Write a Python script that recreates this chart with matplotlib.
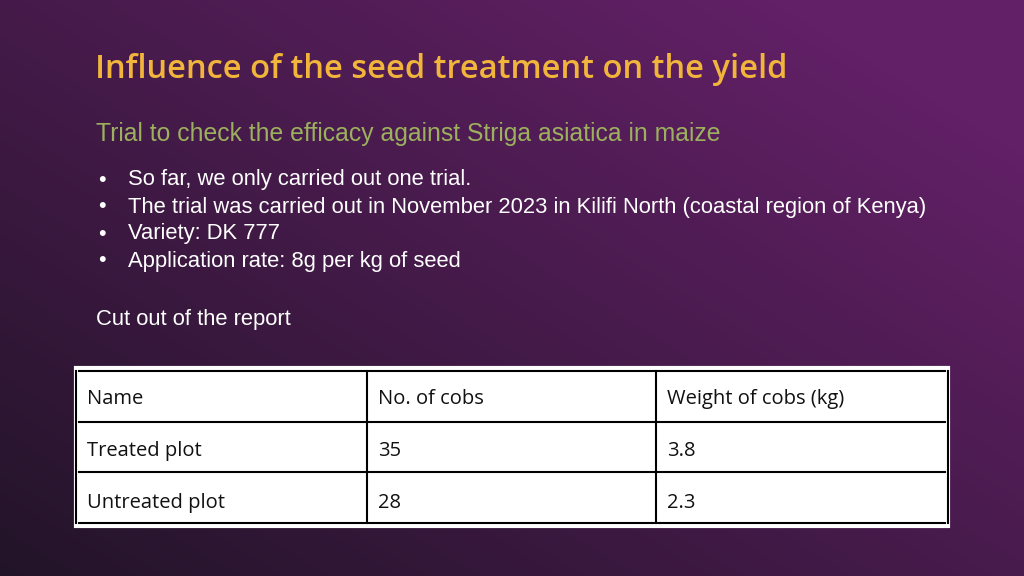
import numpy as np
import matplotlib
matplotlib.use("Agg")
import matplotlib.pyplot as plt
from matplotlib.patches import Rectangle

title = "Influence of the seed treatment on the yield"
subtitle = "Trial to check the efficacy against Striga asiatica in maize"
bullets = ["So far, we only carried out one trial.",
           "The trial was carried out in November 2023 in Kilifi North (coastal region of Kenya)",
           "Variety: DK 777",
           "Application rate: 8g per kg of seed"]
note = "Cut out of the report"
headers = ["Name", "No. of cobs", "Weight of cobs (kg)"]
names = ["Treated plot", "Untreated plot"]
cobs = ["35", "28"]
weights = ["3.8", "2.3"]

W, H = 1024, 576
fig = plt.figure(figsize=(10.24, 5.76), dpi=100)
bg = fig.add_axes([0, 0, 1, 1])
bg.set_xlim(0, W); bg.set_ylim(H, 0); bg.axis("off")
yy, xx = np.mgrid[0:H, 0:W]
t = np.clip((xx / W) * 0.6 + (1 - yy / H) * 0.55, 0, 1)[..., None]
c0 = np.array([0x22, 0x14, 0x28]) / 255
c1 = np.array([0x62, 0x20, 0x66]) / 255
img = c0 * (1 - t) + c1 * t
bg.imshow(img, extent=(0, W, H, 0), aspect="auto", zorder=0)

bg.text(95, 70, title, color="#f2b53b", fontsize=23.5, fontfamily="Open Sans",
        fontweight="semibold", va="center", ha="left")
bg.text(96, 134, subtitle, color="#9cb05e", fontsize=17.8, fontfamily="Liberation Sans",
        va="center")
for i, b in enumerate(bullets):
    y = 180 + i * 27
    bg.text(98, y, "•", color="white", fontsize=15.5, fontfamily="Liberation Sans", va="center")
    bg.text(128, y, b, color="white", fontsize=15.8, fontfamily="Liberation Sans", va="center")
bg.text(96, 320, note, color="white", fontsize=15.8, fontfamily="Liberation Sans", va="center")

cols = [76, 367, 656, 948]
rows = [368, 422, 472, 526]
bg.add_patch(Rectangle((cols[0], rows[0]), cols[-1] - cols[0], rows[-1] - rows[0],
                       facecolor="white", edgecolor="white", lw=3, zorder=2))
for x in cols:
    bg.plot([x, x], [rows[0] + 3, rows[-1] - 3], color="black", lw=1.5, zorder=3)
for y in rows:
    bg.plot([cols[0] + 3, cols[-1] - 3], [y + (3 if y == rows[0] else -3 if y == rows[-1] else 0)] * 2,
            color="black", lw=1.5, zorder=3)
table = [headers] + [[n, c, w] for n, c, w in zip(names, cobs, weights)]
for r, row in enumerate(table):
    yc = (rows[r] + rows[r + 1]) / 2 + 4
    for c, txt in enumerate(row):
        bg.text(cols[c] + 11, yc, txt, color="#111111", fontsize=14.5,
                fontfamily="Open Sans", va="center", zorder=4)

fig.savefig("out.png", dpi=100)
